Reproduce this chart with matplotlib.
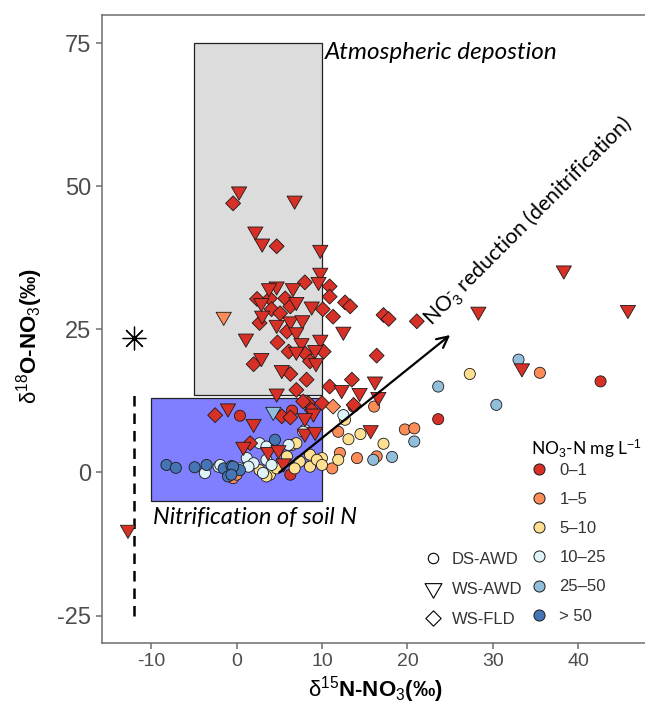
import matplotlib
matplotlib.use("Agg")
import matplotlib.pyplot as plt
from matplotlib.lines import Line2D
from matplotlib.patches import Rectangle
from matplotlib.path import Path

plt.rcParams["axes.unicode_minus"] = False
plt.rcParams["font.family"] = "Liberation Sans"
plt.rcParams["mathtext.fontset"] = "custom"
plt.rcParams["mathtext.rm"] = "Liberation Sans"
plt.rcParams["mathtext.it"] = "Liberation Sans:italic"
plt.rcParams["mathtext.bf"] = "Liberation Sans:bold"

# NO3-N concentration classes and their fill colours
conc_labels = ["0\u20131", "1\u20135", "5\u201310", "10\u201325", "25\u201350", "> 50"]
conc_colors = ["#d73027", "#fc8d59", "#fee090", "#e0f3f8", "#91bfdb", "#4575b4"]

# DS-AWD samples (circles): d15N, d18O, concentration class index
ds_awd_n = [0.4, 6.5, 13.7, 6.3, 23.6, 42.6,
            16.1, 19.7, 20.8, 11.9, 14.1, 16.4, 12.1, 11.2, 35.5, -0.4, 0.0,
            27.3, 17.2, 13.1, 14.5, 12.7, 10.0, 9.0, 8.6, 7.4, 6.8, 6.5, 7.0, 5.9,
            3.9, 11.9, 2.7, 5.1, 3.5, 4.7, 8.6, 9.4, 10.0,
            12.5, -3.7, -2.1, 0.4, 1.2, 2.0, 3.5, 3.1, 4.1, 2.7, 6.1, 3.5, 1.4, -1.9,
            8.0, 7.8,
            33.0, 23.6, 30.4, 20.8, 16.0, 18.2,
            -8.2, -7.1, -4.9, -3.5, -1.5, -0.6, -1.0, 0.4, -0.4, -0.6, 4.5]
ds_awd_o = [9.9, 10.8, 11.5, -0.4, 9.3, 15.9,
            11.5, 7.5, 7.7, 7.1, 2.5, 2.8, 3.4, 0.7, 17.4, -1.0, -0.4,
            17.2, 5.0, 5.8, 6.7, 9.2, 2.5, 2.2, 1.0, 1.9, 0.7, 4.8, 5.1, 2.8,
            -0.4, 2.2, 0.4, 1.0, -0.7, 0.7, 3.1, 2.2, 1.3,
            10.0, -0.1, 1.0, 0.7, 2.5, 1.6, 2.2, -0.1, 1.3, 5.1, 4.8, 4.5, 1.0, 1.3,
            7.4, 7.1,
            19.7, 15.0, 11.8, 5.4, 2.2, 2.7,
            1.3, 0.8, 0.9, 1.3, 0.7, 1.1, -0.7, 0.4, 1.0, -0.4, 5.7]
ds_awd_c = [0] * 6 + [1] * 11 + [2] * 22 + [3] * 16 + [4] * 6 + [5] * 11

# WS-AWD samples (triangles)
ws_awd_n = [0.3, 6.8, 2.2, 3.0, 9.8, 9.8, 9.6, 4.7, 3.8, 6.6, 2.9, 7.0, 8.8,
            3.0, 4.7, 6.3, 7.7, 7.0, 12.5, 1.1, 7.6, 9.8, 7.0, 9.2, 9.3, 2.9,
            5.3, 12.3, 14.4, 16.2, 4.7, 16.6, 15.7, 38.3, 45.8, 28.3, 33.4,
            -1.0, 2.0, 9.0, 8.0, 5.5, 3.7, 0.8, 8.0, 9.2, -12.7, 4.9,
            -1.5, 4.3]
ws_awd_o = [49.1, 47.5, 42.1, 40.0, 38.9, 34.9, 33.3, 32.5, 32.2, 32.2, 29.6, 29.8, 29.0,
            27.4, 25.8, 26.4, 26.6, 24.5, 24.6, 23.4, 22.6, 23.2, 21.1, 21.4, 19.1, 20.0,
            17.9, 14.4, 13.9, 15.9, 13.8, 13.2, 7.4, 35.3, 28.4, 28.1, 18.2,
            11.2, 8.5, 10.3, 9.5, 1.6, 3.6, 4.5, 6.8, 7.1, -10.0, 3.9,
            27.2, 10.6]
ws_awd_c = [0] * 48 + [1, 4]

# WS-FLD samples (diamonds)
ws_fld_n = [-0.4, 4.7, 8.0, 10.9, 2.4, 3.9, 5.7, 10.9, 10.1, 12.7, 13.3, 17.2, 17.8,
            4.1, 5.1, 6.3, 2.7, 11.3, 5.9, 4.8, 6.1, 8.0, 10.2, 8.6, 2.0, 16.4,
            6.3, 8.2, 10.9, 13.5, 7.0, 21.1, 13.7, -2.5, 5.3, 6.3, 8.4, 8.8, 7.8,
            10.0, 1.6, 11.3]
ws_fld_o = [47.0, 39.5, 33.2, 32.5, 30.3, 30.4, 30.4, 30.7, 28.5, 29.7, 29.0, 27.5, 26.8,
            28.5, 27.8, 29.0, 26.1, 27.2, 24.6, 22.7, 21.1, 20.8, 21.1, 19.4, 18.9, 20.4,
            17.2, 16.2, 15.0, 16.2, 14.4, 26.4, 11.8, 10.0, 9.8, 9.6, 12.1, 10.9, 12.4,
            12.1, 5.1, 11.5]
ws_fld_c = [0] * 41 + [1]

# rainfall reference value and its d18O range
rain_n, rain_o = -12.0, 23.5
rain_line_o = [-25.0, 14.0]

# source boxes: (x0, x1, y0, y1)
atm_box = (-5.0, 10.0, 13.5, 75.0)
nit_box = (-10.0, 10.0, -5.0, 13.0)
denit_start = (5.0, 0.0)
denit_end = (25.0, 24.0)

tri_v = [(-0.866, 0.5), (0.866, 0.5), (0.0, -1.0)]
dia_v = [(0.0, 1.0), (1.0, 0.0), (0.0, -1.0), (-1.0, 0.0)]
tri = Path(tri_v + [tri_v[0]], closed=True)
dia = Path(dia_v + [dia_v[0]], closed=True)

fig = plt.figure(figsize=(6.45, 7.11), dpi=100)
ax = fig.add_axes([101.5 / 645, 1 - 643 / 711, 1 - 101.5 / 645, 628 / 711])

ax.add_patch(Rectangle((atm_box[0], atm_box[2]), atm_box[1] - atm_box[0],
                       atm_box[3] - atm_box[2], facecolor="#dcdcdc",
                       edgecolor="#222222", lw=0.9, zorder=1))
ax.add_patch(Rectangle((nit_box[0], nit_box[2]), nit_box[1] - nit_box[0],
                       nit_box[3] - nit_box[2], facecolor="#7f7fff",
                       edgecolor="#222222", lw=0.9, zorder=1))

ax.plot([rain_n, rain_n], rain_line_o, color="black", lw=1.8,
        linestyle=(0, (4.2, 2.8)), zorder=2)
ax.scatter([rain_n], [rain_o], marker=(8, 2, 0), s=270, color="black",
           lw=0.9, zorder=3)

edge = "#1a1a1a"
ax.scatter(ds_awd_n, ds_awd_o, c=[conc_colors[i] for i in ds_awd_c], marker="o",
           s=64, edgecolors=edge, linewidths=0.6, zorder=4)
ax.scatter(ws_fld_n, ws_fld_o, c=[conc_colors[i] for i in ws_fld_c], marker=dia,
           s=115, edgecolors=edge, linewidths=0.6, zorder=5)
ax.scatter(ws_awd_n, ws_awd_o, c=[conc_colors[i] for i in ws_awd_c], marker=tri,
           s=160, edgecolors=edge, linewidths=0.6, zorder=5)

ax.annotate("", xy=denit_end, xytext=denit_start,
            arrowprops=dict(arrowstyle="->", lw=1.6, color="black",
                            mutation_scale=20, shrinkA=0, shrinkB=0), zorder=6)

ax.text(10.35, 73.3, "Atmospheric depostion", family="Lato", style="italic",
        fontsize=17.5, ha="left", va="center")
ax.text(-9.8, -7.8, "Nitrification of soil N", family="Lato", style="italic",
        fontsize=17, ha="left", va="center")
ax.text(22.8, 25.4, r"NO$_3^{\bf{\text{-}}}$ reduction (denitrification)", family="Lato",
        fontsize=15.3, rotation=45, rotation_mode="anchor", ha="left", va="baseline")

ax.set_xlim(-15.8, 47.8)
ax.set_ylim(-29.8, 79.9)
ax.set_xticks([-10, 0, 10, 20, 30, 40])
ax.set_yticks([-25, 0, 25, 50, 75])
ax.tick_params(axis="both", colors="#6e6e6e", length=4, width=1.1)
ax.tick_params(axis="x", labelsize=14, labelcolor="#4d4d4d")
ax.tick_params(axis="y", labelsize=17, labelcolor="#4d4d4d")
for side in ["left", "bottom", "top"]:
    ax.spines[side].set_color("#6e6e6e")
    ax.spines[side].set_linewidth(1.1)
ax.spines["right"].set_visible(False)

fig.text(375 / 645, 1 - 690 / 711, r"$\mathrm{\delta}^{15}$N-NO$_3$(‰)",
         fontsize=16, fontweight="bold", ha="center", va="center")
fig.text(30 / 645, 1 - 336 / 711, r"$\mathrm{\delta}^{18}$O-NO$_3$(‰)",
         fontsize=16, fontweight="bold", ha="center", va="center", rotation=90)

conc_handles = [Line2D([], [], ls="none", marker="o", markersize=8,
                       markerfacecolor=c, markeredgecolor=edge, markeredgewidth=0.7)
                for c in conc_colors]
leg1 = fig.legend(conc_handles, conc_labels, loc="upper left",
                  bbox_to_anchor=(531 / 645, 1 - 437 / 711), frameon=False,
                  fontsize=12, handlelength=1.0, handletextpad=0.7,
                  labelspacing=0.85, borderpad=0, borderaxespad=0,
                  title=r"NO$_3$-N mg L$^{-1}$", alignment="left",
                  title_fontproperties={"family": "Lato", "size": 12.5})
leg1._legend_box.sep = 2
for t in leg1.get_texts():
    t.set_color("#333333")

shape_handles = [
    Line2D([], [], ls="none", marker="o", markersize=7.5, markerfacecolor="white",
           markeredgecolor="black", markeredgewidth=0.8),
    Line2D([], [], ls="none", marker=tri, markersize=14, markerfacecolor="white",
           markeredgecolor="black", markeredgewidth=0.8),
    Line2D([], [], ls="none", marker=dia, markersize=11, markerfacecolor="white",
           markeredgecolor="black", markeredgewidth=0.8),
]
leg2 = fig.legend(shape_handles, ["DS-AWD", "WS-AWD", "WS-FLD"], loc="upper left",
                  bbox_to_anchor=(425 / 645, 1 - 552 / 711), frameon=False,
                  fontsize=12, handlelength=0.95, handletextpad=0.65,
                  labelspacing=0.9, borderpad=0, borderaxespad=0)
for t in leg2.get_texts():
    t.set_color("#333333")

fig.savefig("out.png", dpi=100)
